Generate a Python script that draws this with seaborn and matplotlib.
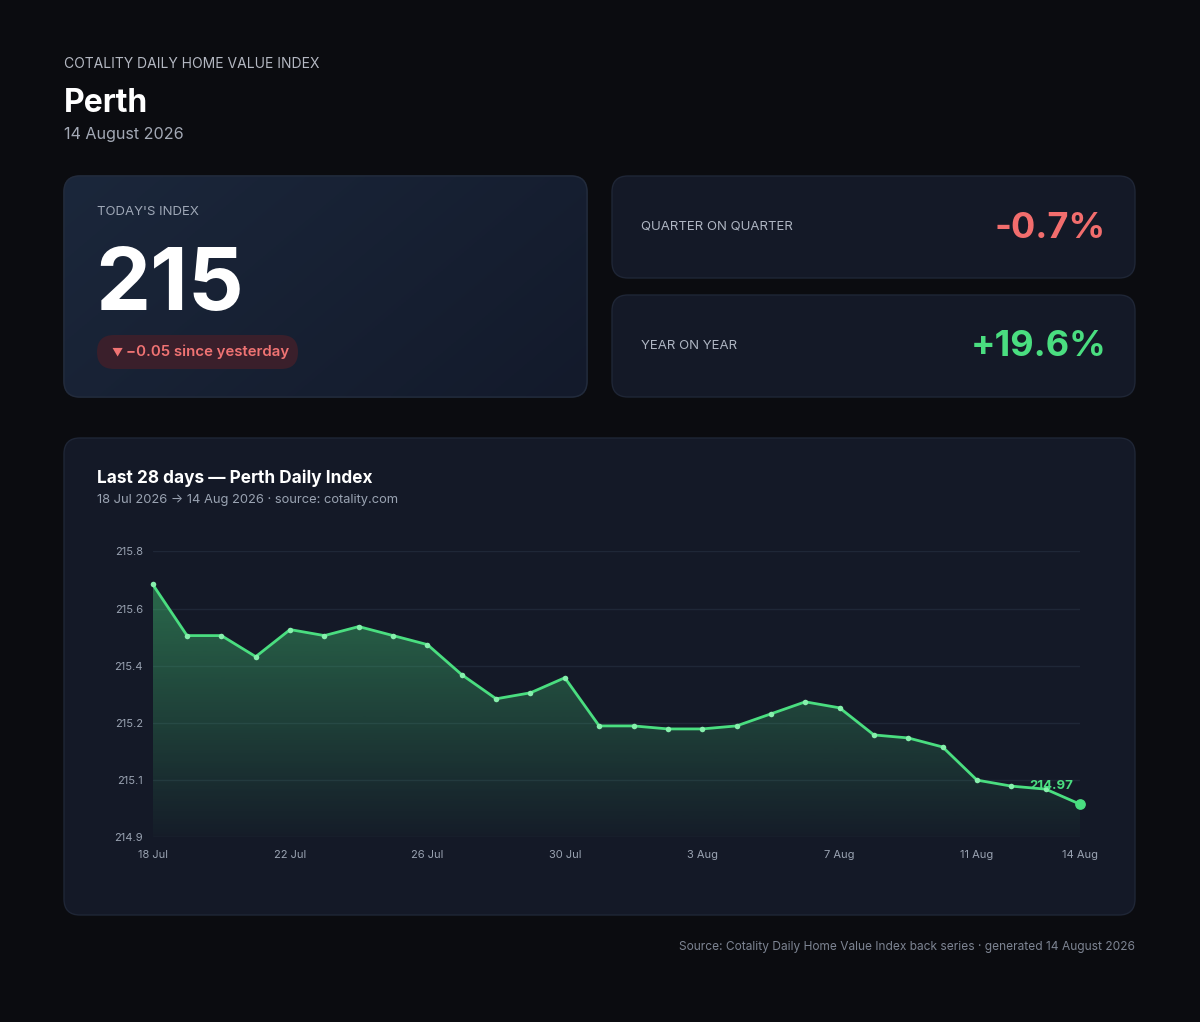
import numpy as np
import pandas as pd
import matplotlib
matplotlib.use("Agg")
import matplotlib.pyplot as plt
import seaborn as sns
from matplotlib.patches import FancyBboxPatch
from matplotlib.colors import to_rgb

# --- data ---
days = pd.date_range("2026-07-18", "2026-08-14", freq="D")
index_values = [215.70, 215.53, 215.53, 215.46, 215.55, 215.53, 215.56, 215.53,
                215.50, 215.40, 215.32, 215.34, 215.39, 215.23, 215.23, 215.22,
                215.22, 215.23, 215.27, 215.31, 215.29, 215.20, 215.19, 215.16,
                215.05, 215.03, 215.02, 214.97]
tick_days = ["18 Jul", "22 Jul", "26 Jul", "30 Jul", "3 Aug", "7 Aug", "11 Aug", "14 Aug"]
ytick_values = [214.86, 215.05, 215.24, 215.43, 215.62, 215.81]
ytick_labels = ["214.9", "215.1", "215.2", "215.4", "215.6", "215.8"]

todays_index = "215"
since_yesterday = "\u22120.05 since yesterday"
qoq = "-0.7%"
yoy = "+19.6%"

BG = "#0b0c10"
CARD = "#141927"
EDGE = "#1f2636"
GREEN = "#4ade80"
RED = "#f26d6d"
MUTED = "#a3a9b5"

sns.set_theme(style="dark")
plt.rcParams["font.family"] = ["Inter", "DejaVu Sans"]

W, H = 1200, 1022
fig = plt.figure(figsize=(12, 10.22), dpi=100)
fig.patch.set_facecolor(BG)

bg = fig.add_axes([0, 0, 1, 1])
bg.set_xlim(0, W)
bg.set_ylim(H, 0)
bg.axis("off")


def card(x, y, w, h, face=CARD, r=16):
    p = FancyBboxPatch((x, y), w, h, boxstyle=f"round,pad=0,rounding_size={r}",
                       fc=face, ec=EDGE, lw=1, zorder=1)
    bg.add_patch(p)
    return p


# header
bg.text(64, 64, "COTALITY DAILY HOME VALUE INDEX", color="#b4b8c2", fontsize=10,
        va="center", ha="left")
bg.text(64, 103, "Perth", color="white", fontsize=23, fontweight="bold", va="center")
bg.text(64, 135, "14 August 2026", color=MUTED, fontsize=11.6, va="center")

# today's index card with a soft gradient
left = card(64, 176, 523, 221)
gx, gy = np.meshgrid(np.linspace(0, 1, 200), np.linspace(0, 1, 100))
t = np.clip((gx * 0.8 + gy * 0.4) / 1.2, 0, 1)[..., None]
c0, c1 = np.array(to_rgb("#1b273b")), np.array(to_rgb("#131a2b"))
grad = c0 * (1 - t) + c1 * t
im = bg.imshow(grad, extent=(64, 587, 397, 176), aspect="auto", zorder=1.5)
im.set_clip_path(left)
edge = FancyBboxPatch((64, 176), 523, 221, boxstyle="round,pad=0,rounding_size=16",
                      fc="none", ec="#222b3c", lw=1, zorder=2)
bg.add_patch(edge)

bg.text(97, 212, "TODAY'S INDEX", color="#9ea7b6", fontsize=9.5, va="center", zorder=3)
bg.text(95, 310, todays_index, color="white", fontsize=63, fontweight="bold",
        va="baseline", zorder=3)
pill = FancyBboxPatch((97, 335), 201, 34, boxstyle="round,pad=0,rounding_size=17",
                      fc="#3a1f2b", ec="none", zorder=3)
bg.add_patch(pill)
bg.text(111, 352, "\u25BC", color="#f07373", fontsize=8, va="center", zorder=4)
bg.text(126, 352, since_yesterday, color="#f07373", fontsize=10.8, fontweight="semibold",
        va="center", zorder=4)

# change cards
card(612, 176, 523, 102)
bg.text(641, 227, "QUARTER ON QUARTER", color="#aeb5c2", fontsize=9.5, va="center", zorder=3)
bg.text(1106, 228, qoq, color=RED, fontsize=26, fontweight="bold", ha="right",
        va="center", zorder=3)
card(612, 295, 523, 102)
bg.text(641, 346, "YEAR ON YEAR", color="#aeb5c2", fontsize=9.5, va="center", zorder=3)
bg.text(1106, 347, yoy, color=GREEN, fontsize=26, fontweight="bold", ha="right",
        va="center", zorder=3)

# chart card
card(64, 438, 1071, 477)
bg.text(97, 478, "Last 28 days \u2014 Perth Daily Index", color="white", fontsize=12.4,
        fontweight="bold", va="center", zorder=3)
bg.text(97, 500, "18 Jul 2026 \u2192 14 Aug 2026 \u00b7 source: cotality.com", color="#9aa3b2",
        fontsize=9.3, va="center", zorder=3)

bg.text(1135, 947, "Source: Cotality Daily Home Value Index back series \u00b7 generated 14 August 2026",
        color="#7d8492", fontsize=8.6, ha="right", va="center")

# line chart
ax = fig.add_axes([152.7 / W, 1 - 837.3 / H, (1080 - 152.7) / W, (837.3 - 551.3) / H])
ax.set_facecolor("none")
df = pd.DataFrame({"day": np.arange(len(days)), "value": index_values})

ymin, ymax = ytick_values[0], ytick_values[-1]
fill = ax.fill_between(df["day"], df["value"], ymin, color="none", lw=0)
alpha = np.linspace(0.02, 0.46, 256)
rgba = np.zeros((256, 1, 4))
rgba[..., :3] = to_rgb(GREEN)
rgba[:, 0, 3] = alpha
gim = ax.imshow(rgba, extent=(0, len(days) - 1, ymin, ymax), origin="lower",
                aspect="auto", zorder=1)
gim.set_clip_path(fill.get_paths()[0], transform=ax.transData)

sns.lineplot(data=df, x="day", y="value", color=GREEN, lw=2, marker="o", markersize=4,
             markerfacecolor="#86efac", markeredgewidth=0, ax=ax, zorder=3)
ax.lines[-1].set_clip_on(False)
ax.scatter(df["day"].iloc[-1], df["value"].iloc[-1], s=45, color=GREEN, zorder=4,
           clip_on=False)
ax.annotate(f"{index_values[-1]:.2f}", (df["day"].iloc[-1], df["value"].iloc[-1]),
            xytext=(-5, 13), textcoords="offset points", ha="right", va="center",
            color=GREEN, fontsize=9.5, fontweight="bold", zorder=5)

ax.set_xlim(0, len(days) - 1)
ax.set_ylim(ymin, ymax)
labels = [f"{d.day} {d:%b}" for d in days]
ax.set_xticks([labels.index(k) for k in tick_days])
ax.set_xticklabels(tick_days)
ax.set_yticks(ytick_values)
ax.set_yticklabels(ytick_labels)
ax.tick_params(axis="both", length=0, colors="#9aa3b2", labelsize=8)
ax.tick_params(axis="x", pad=9)
ax.tick_params(axis="y", pad=7)
ax.grid(axis="y", color="#1f2737", lw=1)
ax.grid(axis="x", visible=False)
ax.set_axisbelow(True)
ax.set_xlabel("")
ax.set_ylabel("")
for s in ax.spines.values():
    s.set_visible(False)

fig.savefig("out.png", dpi=100, facecolor=BG)
